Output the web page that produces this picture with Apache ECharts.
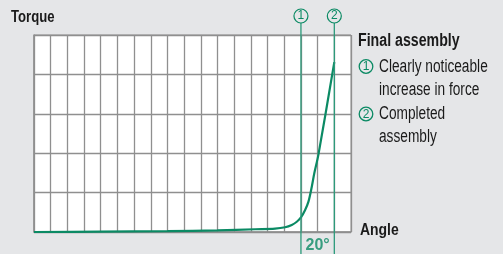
<!DOCTYPE html>
<html>
<head>
<meta charset="utf-8">
<script src="https://cdn.jsdelivr.net/npm/echarts@6/dist/echarts.min.js"></script>
<style>
  html, body { margin: 0; padding: 0; background: #e5e6e8; }
  #chart { width: 503px; height: 254px; }
</style>
</head>
<body>
<div id="chart"></div>
<script>
// curve (x = grid columns, y = grid rows)
const angle = [0, 4, 8, 11, 13.25, 14.45, 15.05, 15.45, 15.75, 16, 16.25, 16.45, 16.65, 16.8, 17.05, 18];
const torque = [0, 0.01, 0.02, 0.04, 0.07, 0.085, 0.12, 0.18, 0.26, 0.37, 0.56, 0.77, 1.15, 1.49, 1.97, 4.31];

// vertical markers
const markerAngles = [16, 18];
const markerLabels = ["1", "2"];
const spanLabel = "20°";

const legendTitle = "Final assembly";
const legendLines = [
  ["1", "Clearly noticeable"],
  ["", "increase in force"],
  ["2", "Completed"],
  ["", "assembly"],
];

const GREEN = "#0b8a64";
const LINE_GREEN = "#2b9a7a";
const GRID_GRAY = "#8f8f8f";
const TEXT = "#1a1a1a";
const FONT = "'Liberation Sans', Arial, sans-serif";

const circleRich = {
  c: {
    width: 12,
    height: 12,
    lineHeight: 12,
    borderRadius: 7,
    borderWidth: 1.2,
    borderColor: GREEN,
    padding: [1, 1, 1, 1],
    align: "center",
    color: GREEN,
    fontSize: 12,
    fontFamily: FONT,
  },
};

const chart = echarts.init(document.getElementById("chart"));

const markerSeries = markerAngles.map((a, i) => ({
  type: "line",
  xAxisIndex: 1,
  yAxisIndex: 1,
  symbol: "circle",
  symbolSize: 0,
  lineStyle: { color: LINE_GREEN, width: 1.3 },
  z: 5,
  silent: true,
  data: [
    [a, 0],
    {
      value: [a, 1],
      label: {
        show: true,
        position: "top",
        distance: 1,
        formatter: "{c|" + markerLabels[i] + "}",
        rich: circleRich,
      },
    },
  ],
}));

// squeeze text horizontally so it looks like a condensed face
function squeezed(text, x, y, size, bold, narrow) {
  return {
    type: "text",
    x: x,
    y: y,
    scaleX: narrow,
    style: {
      text: text,
      font: (bold ? "bold " : "") + size + "px " + FONT,
      fill: TEXT,
      verticalAlign: "middle",
    },
  };
}

const graphics = [
  squeezed("Torque", 11, 17.5, 16, true, 0.82),
  squeezed("Angle", 360, 230, 17, true, 0.82),
  squeezed(legendTitle, 358, 41, 17.5, true, 0.81),
];
const legendY = [67, 90.5, 114.5, 137.5];
legendLines.forEach((l, i) => {
  if (l[0]) {
    graphics.push({
      type: "circle",
      shape: { cx: 366, cy: legendY[i] - 0.5, r: 6.8 },
      style: { fill: "none", stroke: GREEN, lineWidth: 1.3 },
    });
    graphics.push({
      type: "text",
      x: 366,
      y: legendY[i],
      style: {
        text: l[0],
        font: "12px " + FONT,
        fill: GREEN,
        align: "center",
        verticalAlign: "middle",
      },
    });
  }
  graphics.push(squeezed(l[1], 379, legendY[i], 18, false, 0.76));
});

chart.setOption({
  backgroundColor: "#e5e6e8",
  animation: false,
  grid: [
    {
      left: 34,
      right: 152,
      top: 35,
      bottom: 22,
      show: true,
      backgroundColor: "#fff",
      borderColor: GRID_GRAY,
      borderWidth: 1,
    },
    { left: 34, right: 152, top: 23, bottom: 0 },
  ],
  xAxis: [
    {
      type: "value",
      min: 0,
      max: 19,
      interval: 1,
      axisLine: { show: true, lineStyle: { color: GRID_GRAY, width: 1.5 } },
      axisTick: { show: false },
      axisLabel: { show: false },
      splitLine: { show: true, lineStyle: { color: GRID_GRAY, width: 1.3 } },
    },
    { gridIndex: 1, type: "value", min: 0, max: 19, show: false },
  ],
  yAxis: [
    {
      type: "value",
      min: 0,
      max: 5,
      interval: 1,
      axisLine: { show: true, lineStyle: { color: GRID_GRAY, width: 1.5 } },
      axisTick: { show: false },
      axisLabel: { show: false },
      splitLine: { show: true, lineStyle: { color: GRID_GRAY, width: 1.3 } },
    },
    { gridIndex: 1, type: "value", min: 0, max: 1, show: false },
  ],
  graphic: graphics,
  series: [
    {
      type: "line",
      data: angle.map((a, i) => [a, torque[i]]),
      smooth: 0.3,
      showSymbol: false,
      lineStyle: { color: GREEN, width: 2.2 },
      z: 4,
      silent: true,
    },
    ...markerSeries,
    {
      type: "scatter",
      xAxisIndex: 1,
      yAxisIndex: 1,
      symbolSize: 0,
      silent: true,
      data: [[(markerAngles[0] + markerAngles[1]) / 2, 0.035]],
      label: {
        show: true,
        position: "inside",
        formatter: spanLabel,
        fontFamily: FONT,
        fontSize: 16,
        fontWeight: "bold",
        color: GREEN,
      },
    },
  ],
});
</script>
</body>
</html>
